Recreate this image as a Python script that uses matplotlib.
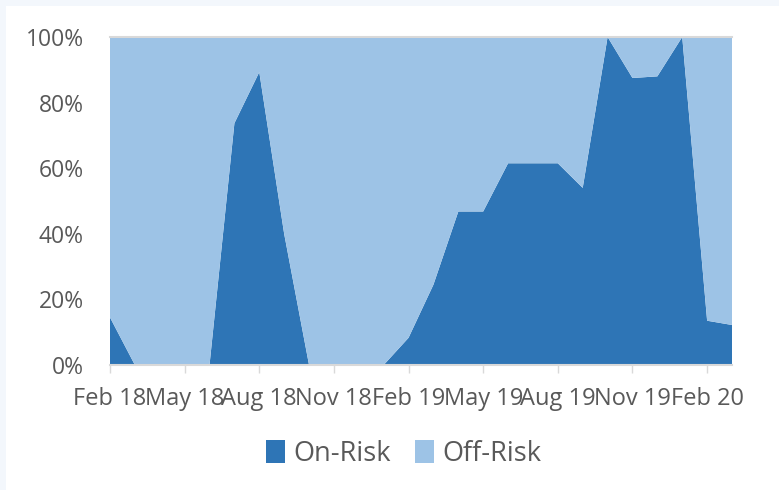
import numpy as np
import matplotlib.pyplot as plt
from matplotlib.patches import Rectangle
from matplotlib.ticker import FuncFormatter

plt.rcParams['font.family'] = ['Open Sans', 'DejaVu Sans']

months = ['Feb 18', 'Mar 18', 'Apr 18', 'May 18', 'Jun 18', 'Jul 18', 'Aug 18',
          'Sep 18', 'Oct 18', 'Nov 18', 'Dec 18', 'Jan 19', 'Feb 19', 'Mar 19',
          'Apr 19', 'May 19', 'Jun 19', 'Jul 19', 'Aug 19', 'Sep 19', 'Oct 19',
          'Nov 19', 'Dec 19', 'Jan 20', 'Feb 20', 'Mar 20']
on_risk = [14.5, 0, 0, 0, 0, 73.7, 89.3, 40, 0, 0, 0, 0, 8.3, 24.5,
           46.8, 46.8, 61.5, 61.5, 61.5, 54, 100, 87.5, 88, 100, 13.5, 12.2]
off_risk = [100 - v for v in on_risk]

dark = '#2E75B6'
light = '#9DC3E6'
txt = '#595959'

fig = plt.figure(figsize=(7.79, 4.90), dpi=100)
fig.patch.set_facecolor('#F3F7FC')
# white card inset from the top and left edges
fig.patches.append(Rectangle((6 / 779, 0), 1, 1 - 6 / 490, transform=fig.transFigure,
                             facecolor='white', edgecolor='none', zorder=-10))

ax = fig.add_axes([110 / 779, 1 - 365 / 490, (732 - 110) / 779, (365 - 37) / 490])
ax.set_zorder(1)
ax.set_facecolor('none')
x = np.arange(len(months))
ax.stackplot(x, on_risk, off_risk, colors=[dark, light], labels=['On-Risk', 'Off-Risk'],
             linewidth=0)

ax.set_xlim(0, len(months) - 1)
ax.set_ylim(0, 100)
ax.set_yticks(range(0, 101, 20))
ax.yaxis.set_major_formatter(FuncFormatter(lambda v, p: f'{v:.0f}%'))
ax.set_xticks(x[::3])
ax.set_xticklabels(months[::3])

for s in ['left', 'right']:
    ax.spines[s].set_visible(False)
for s in ['top', 'bottom']:
    ax.spines[s].set_color('#D9D9D9')
    ax.spines[s].set_linewidth(1.5)

ax.tick_params(axis='y', length=0, pad=19, labelsize=16.5, labelcolor=txt)
ax.tick_params(axis='x', length=6, width=1, color='#D9D9D9', pad=10, labelsize=17, labelcolor=txt)

leg = fig.legend(loc='center', bbox_to_anchor=(404 / 779, 1 - 454 / 490), ncol=2,
                 frameon=False, fontsize=19.5, handlelength=0.7, handleheight=0.9,
                 handletextpad=0.3, columnspacing=0.9)
for t in leg.get_texts():
    t.set_color(txt)

fig.savefig('out.png', dpi=100, facecolor=fig.get_facecolor())
